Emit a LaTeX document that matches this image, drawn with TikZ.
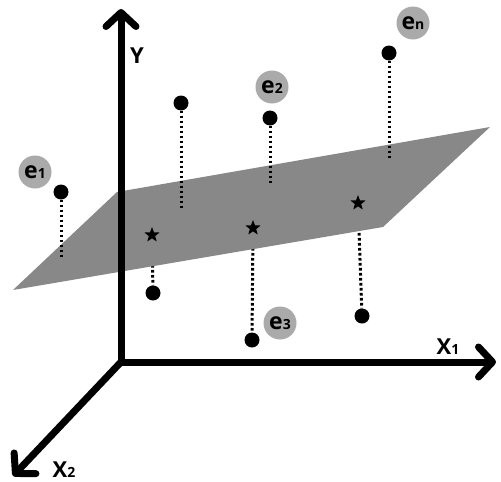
\documentclass[tikz,border=0pt]{standalone}
\usepackage{fontspec}
\setmainfont{Open Sans}
\usetikzlibrary{arrows.meta,shapes.geometric}
\definecolor{planegray}{RGB}{136,136,136}
\definecolor{labelgray}{RGB}{170,170,170}
\tikzset{axtip/.tip={Straight Barb[length=14pt,width=30pt,round]}}
\begin{document}
\begin{tikzpicture}[x=1pt,y=-1pt,
  axisline/.style={line width=7pt, line join=miter},
  dot/.style={circle, fill=black, minimum size=15pt, inner sep=0pt},
  dotline/.style={line width=3pt, dash pattern=on 2.6pt off 2.4pt},
  starn/.style={star, star points=5, star point ratio=2.4, minimum size=16pt, inner sep=0pt, fill=black},
  lab/.style={circle, fill=labelgray, minimum size=33pt, inner sep=0pt, font=\bfseries\fontsize{23}{23}\selectfont},
  axlab/.style={inner sep=0pt, font=\bfseries\fontsize{22}{22}\selectfont}]
\useasboundingbox (0,0) rectangle (501,482);
% positions
\coordinate (O) at (121,362);
\coordinate (Ytip) at (121,9);
\coordinate (X1tip) at (496,362);
\coordinate (X2tip) at (13,476);
\coordinate (s1) at (152,235);
\coordinate (s2) at (253,228);
\coordinate (s3) at (358,203);
% lower points and their dotted lines (behind the plane)
\node[dot] (d1) at (153,293) {};
\node[dot] (d2) at (252,340) {};
\node[dot] (d3) at (362,316) {};
\draw[dotline] (s1) -- (d1);
\draw[dotline] (s2) -- (d2);
\draw[dotline] (s3) -- (d3);
% plane
\coordinate (pa) at (117,192);
\coordinate (pb) at (490,127);
\coordinate (pc) at (383,227);
\coordinate (pd) at (13,290);
\fill[planegray] (pa) -- (pb) -- (pc) -- (pd) -- cycle;
% axes
\draw[axisline, axtip-axtip] (Ytip) -- (O) -- (X1tip);
\draw[axisline, -axtip] (O) -- (X2tip);
\node[axlab] (ly) at (137,56) {Y};
\node[axlab] (lx1) at (448,347) {X{\fontsize{14}{14}\selectfont 1}};
\node[axlab] (lx2) at (64,470) {X{\fontsize{14}{14}\selectfont 2}};
% upper points
\node[dot] (p1) at (61,192) {};
\coordinate (q1) at (61,258);
\node[dot] (p2) at (181,103) {};
\coordinate (q2) at (181,210);
\node[dot] (p3) at (270,118) {};
\coordinate (q3) at (270,184);
\node[dot] (p4) at (389,53) {};
\coordinate (q4) at (389,160);
\draw[dotline] (p1) -- (q1);
\draw[dotline] (p2) -- (q2);
\draw[dotline] (p3) -- (q3);
\draw[dotline] (p4) -- (q4);
% stars
\node[starn] (st1) at (s1) {};
\node[starn] (st2) at (s2) {};
\node[starn] (st3) at (s3) {};
% labels
\node[lab] (e1) at (35,172) {e{\fontsize{14}{14}\selectfont 1}};
\node[lab] (e2) at (272,87) {e{\fontsize{14}{14}\selectfont 2}};
\node[lab] (en) at (413,23) {e{\fontsize{14}{14}\selectfont n}};
\node[lab] (e3) at (280,323) {e{\fontsize{14}{14}\selectfont 3}};
\end{tikzpicture}
\end{document}
